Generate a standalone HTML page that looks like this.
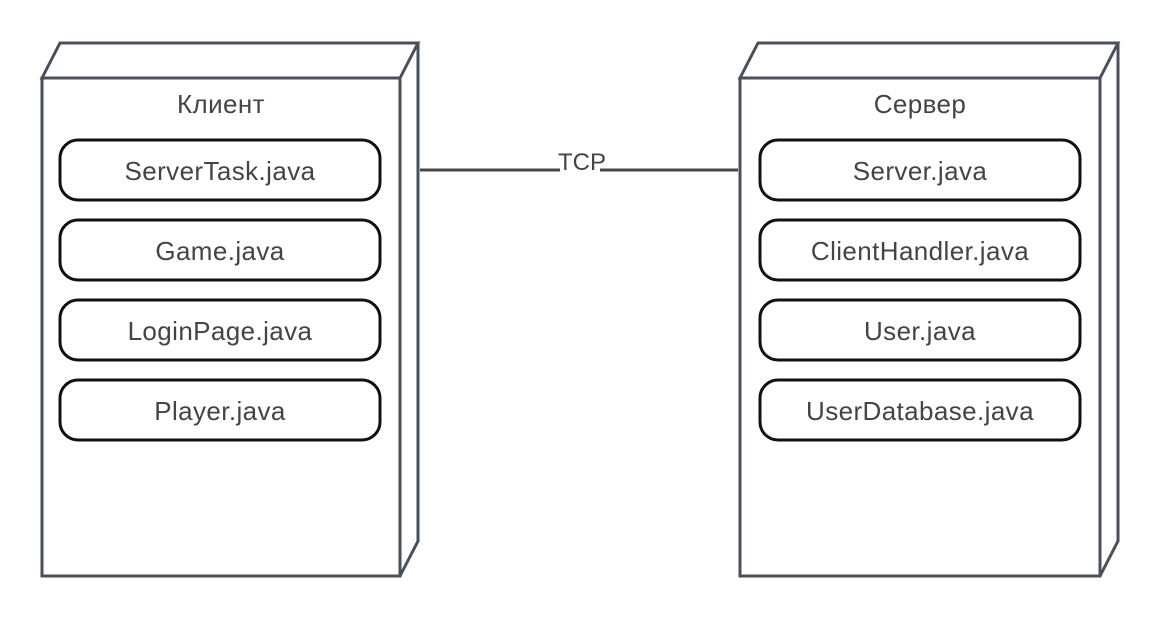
<!DOCTYPE html><html><head><meta charset="utf-8"><style>body{margin:0;background:#fff}</style></head><body>
<svg width="1159" height="621" xmlns="http://www.w3.org/2000/svg" font-family="Liberation Sans, DejaVu Sans, sans-serif">
<g fill="none" stroke="#4a5059" stroke-width="3" stroke-linejoin="miter">
<path d="M42,78 L60,43 L418,43 L400,78 Z"/><rect x="42" y="78" width="358" height="498"/><path d="M400,576 L418,541 L418,43"/>
<path d="M740,78 L758,43 L1118,43 L1100,78 Z"/><rect x="740" y="78" width="360" height="498"/><path d="M1100,576 L1118,541 L1118,43"/>
</g>
<g stroke="#484848" stroke-width="3"><line x1="420" y1="170" x2="560" y2="170"/><line x1="600" y1="170" x2="738" y2="170"/></g>
<text x="582" y="170" font-size="24" fill="#444" text-anchor="middle">TCP</text>
<g fill="#444" font-size="26" text-anchor="middle" letter-spacing="0.4">
<text x="221" y="113">Клиент</text><text x="920" y="113">Сервер</text></g>
<g fill="#fff" stroke="#111" stroke-width="3">
<rect x="60" y="140" width="320" height="60" rx="18"/><rect x="60" y="220" width="320" height="60" rx="18"/><rect x="60" y="300" width="320" height="60" rx="18"/><rect x="60" y="380" width="320" height="60" rx="18"/>
<rect x="760" y="140" width="320" height="60" rx="18"/><rect x="760" y="220" width="320" height="60" rx="18"/><rect x="760" y="300" width="320" height="60" rx="18"/><rect x="760" y="380" width="320" height="60" rx="18"/>
</g>
<g fill="#444" font-size="26" text-anchor="middle" letter-spacing="0.4">
<text x="220" y="180">ServerTask.java</text><text x="220" y="260">Game.java</text><text x="220" y="340">LoginPage.java</text><text x="220" y="420">Player.java</text>
<text x="920" y="180">Server.java</text><text x="920" y="260">ClientHandler.java</text><text x="920" y="340">User.java</text><text x="920" y="420">UserDatabase.java</text>
</g>
</svg></body></html>
